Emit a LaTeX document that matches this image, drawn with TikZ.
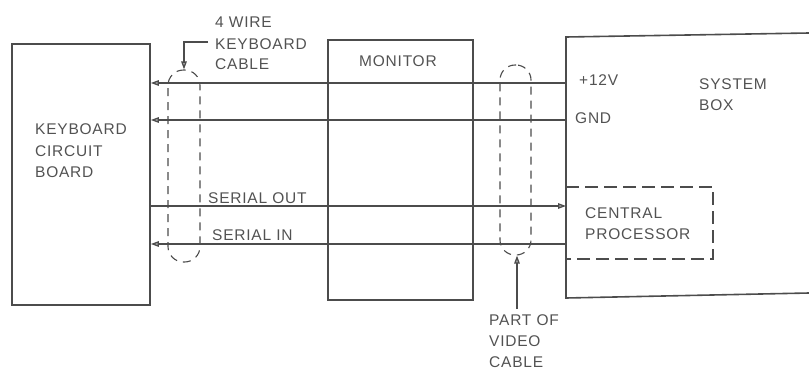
\documentclass[tikz,border=0pt]{standalone}
\usepackage{fontspec}
\setmainfont{Liberation Sans}[LetterSpace=5]
\usetikzlibrary{arrows.meta}
\definecolor{ink}{gray}{0.3}
\definecolor{txt}{gray}{0.32}
\begin{document}
\begin{tikzpicture}[x=1pt,y=-1pt,
  box/.style={draw=ink, line width=1.6pt, inner sep=0pt},
  wire/.style={draw=ink, line width=1.3pt},
  cable/.style={draw=ink, line width=1.1pt, dash pattern=on 8pt off 6pt, inner sep=0pt},
  cpd/.style={draw=ink, line width=1.3pt, dash pattern=on 13pt off 6pt},
  lbl/.style={text=txt, font=\fontsize{15.5}{18}\selectfont, anchor=base west, inner sep=0pt},
  tip/.style={-{Triangle[length=8pt,width=5.5pt,fill=ink!45]}},
]
\useasboundingbox (0,0) rectangle (809,370);
% boxes
\node[box, minimum width=138pt, minimum height=261pt] (kb) at (81,174.5) {};
\node[box, minimum width=145pt, minimum height=260pt] (mon) at (400.5,170) {};
\coordinate (sTL) at (566,37); \coordinate (sTR) at (809,33);
\coordinate (sBL) at (566,298); \coordinate (sBR) at (809,293);
\draw[box] (sTR) -- (sTL) -- (sBL) -- (sBR);
% central processor dashed box
\coordinate (cpTL) at (566,187); \coordinate (cpTR) at (713,187);
\coordinate (cpBR) at (713,259); \coordinate (cpBL) at (566,259);
\draw[cpd] (cpTL) -- (cpTR) -- (cpBR) -- (cpBL);
% wires
\coordinate (s12) at (566,83);  \coordinate (k12) at (kb.east |- s12);
\coordinate (sGN) at (566,120); \coordinate (kGN) at (kb.east |- sGN);
\coordinate (sSO) at (566,206); \coordinate (kSO) at (kb.east |- sSO);
\coordinate (sSI) at (566,244); \coordinate (kSI) at (kb.east |- sSI);
\draw[wire,tip] (s12) -- (k12);
\draw[wire,tip] (sGN) -- (kGN);
\draw[wire,tip] (kSO) -- (sSO);
\draw[wire,tip] (sSI) -- (kSI);
% cables
\node[cable, rounded corners=15.5pt, minimum width=32pt, minimum height=192pt] (kbc) at (184,166) {};
\node[cable, rounded corners=15pt, minimum width=31pt, minimum height=190pt] (vc) at (515.5,160) {};
% labels
\node[lbl] (w1) at (215,27) {4 WIRE};
\node[lbl] (w2) at (215,49) {KEYBOARD};
\node[lbl] (w3) at (215,69) {CABLE};
\coordinate (kbp) at (208,42);
\draw[wire,tip] (kbp) -| (kbc.north);
\node[lbl] (monl) at (359,66) {MONITOR};
\node[lbl] (v12) at (579,85) {+12V};
\node[lbl] (gnd) at (575,123) {GND};
\node[lbl] (sys1) at (699,89) {SYSTEM};
\node[lbl] (sys2) at (699,110) {BOX};
\node[lbl] (k1) at (35,134) {KEYBOARD};
\node[lbl] (k2) at (35,156) {CIRCUIT};
\node[lbl] (k3) at (35,177) {BOARD};
\node[lbl] (so) at (208,203) {SERIAL OUT};
\node[lbl] (si) at (212,240) {SERIAL IN};
\node[lbl] (cp1) at (585,218) {CENTRAL};
\node[lbl] (cp2) at (585,239) {PROCESSOR};
\node[lbl] (p1) at (489,325) {PART OF};
\node[lbl] (p2) at (489,346) {VIDEO};
\node[lbl] (p3) at (489,367) {CABLE};
\coordinate (vcp) at (517,309);
\draw[wire,tip] (vcp) -- (vcp |- vc.south);
\end{tikzpicture}
\end{document}
